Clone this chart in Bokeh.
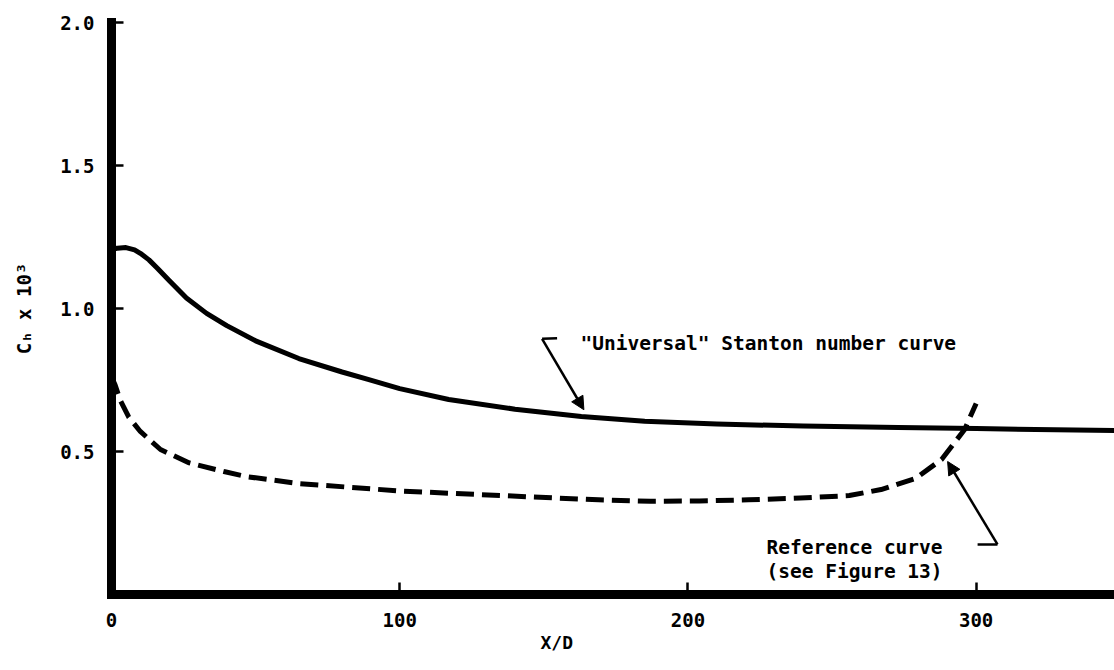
from bokeh.plotting import figure
from bokeh.models import FixedTicker, Label, Arrow, NormalHead, Range1d, Title
from bokeh.embed import file_html
from bokeh.resources import INLINE

# --- data ---
x_universal = [0, 2, 5, 8, 10, 13, 16, 20, 26, 33, 40, 50, 65, 80, 89, 100, 117,
               140, 163, 185, 210, 240, 273, 300, 348]
y_universal = [1.205, 1.211, 1.213, 1.205, 1.193, 1.17, 1.14, 1.098, 1.037, 0.983,
               0.94, 0.887, 0.825, 0.778, 0.752, 0.72, 0.682, 0.648, 0.622, 0.606,
               0.596, 0.589, 0.584, 0.580, 0.573]

x_reference = [0, 1.2, 3, 6, 10, 17, 27, 39, 47, 65, 100, 135, 169, 187, 204, 221,
               239, 256, 267, 279, 288, 296, 300]
y_reference = [0.76, 0.734, 0.68, 0.62, 0.57, 0.507, 0.46, 0.43, 0.412, 0.388,
               0.362, 0.346, 0.331, 0.326, 0.327, 0.331, 0.337, 0.346, 0.367,
               0.406, 0.472, 0.577, 0.668]

x_ticks = [0, 100, 200, 300]
y_ticks = [0.5, 1.0, 1.5, 2.0]
y_tick_labels = {0.5: "0.5", 1.0: "1.0", 1.5: "1.5", 2.0: "2.0"}

FONT = "DejaVu Sans Mono"

p = figure(width=1114, height=670, x_range=Range1d(0, 348), y_range=Range1d(0, 2.0),
           output_backend="svg", toolbar_location=None, title=None,
           min_border_left=111, min_border_right=0, min_border_top=22,
           min_border_bottom=76)
p.outline_line_color = None
p.grid.visible = False
p.background_fill_color = "white"
p.border_fill_color = "white"

for ax in (p.xaxis[0], p.yaxis[0]):
    ax.axis_line_width = 9
    ax.axis_line_color = "black"
    ax.axis_line_cap = "square"
    ax.major_tick_in = 12
    ax.major_tick_out = 0
    ax.major_tick_line_width = 2.5
    ax.major_tick_line_color = "black"
    ax.minor_tick_line_color = None
    ax.major_label_text_font = FONT
    ax.major_label_text_font_style = "bold"
    ax.major_label_text_font_size = "19px"
    ax.major_label_text_color = "black"

p.xaxis.ticker = FixedTicker(ticks=x_ticks)
p.yaxis.ticker = FixedTicker(ticks=y_ticks)
p.yaxis.major_label_overrides = y_tick_labels
p.xaxis.major_label_standoff = 18
p.yaxis.major_label_standoff = 17

p.yaxis.axis_label = "Cₕ x 10³"
p.yaxis.axis_label_text_font = FONT
p.yaxis.axis_label_text_font_style = "bold"
p.yaxis.axis_label_text_font_size = "19px"
p.yaxis.axis_label_text_color = "black"
p.yaxis.axis_label_standoff = 22

p.line(x_universal, y_universal, line_color="black", line_width=5,
       line_join="round", line_cap="round")
p.line(x_reference, y_reference, line_color="black", line_width=5,
       line_dash="18 8", line_join="round")

p.add_layout(Title(text="X/D", align="left", offset=429, text_font=FONT,
                   text_font_style="bold", text_font_size="18px",
                   text_color="black", standoff=0), "below")

# annotations
p.add_layout(Label(x=162.7, y=0.878, text='"Universal" Stanton number curve',
                   text_font=FONT, text_font_style="bold", text_font_size="19.5px",
                   text_color="black", text_align="left", text_baseline="alphabetic"))
p.add_layout(Label(x=257.8, y=0.164, text="Reference curve",
                   text_font=FONT, text_font_style="bold", text_font_size="19.5px",
                   text_color="black", text_align="center", text_baseline="alphabetic"))
p.add_layout(Label(x=257.8, y=0.080, text="(see Figure 13)",
                   text_font=FONT, text_font_style="bold", text_font_size="19.5px",
                   text_color="black", text_align="center", text_baseline="alphabetic"))

p.segment(x0=[149.4, 300.5], y0=[0.894, 0.175], x1=[154.6, 307.4], y1=[0.896, 0.175],
          line_color="black", line_width=2.5)
for xs, ys, xe, ye in [(149.4, 0.894, 163.9, 0.646), (307.4, 0.175, 290.1, 0.465)]:
    p.add_layout(Arrow(x_start=xs, y_start=ys, x_end=xe, y_end=ye,
                       line_color="black", line_width=2.5,
                       end=NormalHead(size=13, fill_color="black",
                                      line_color="black", line_width=1)))

open("out.html", "w").write(file_html(p, INLINE))
